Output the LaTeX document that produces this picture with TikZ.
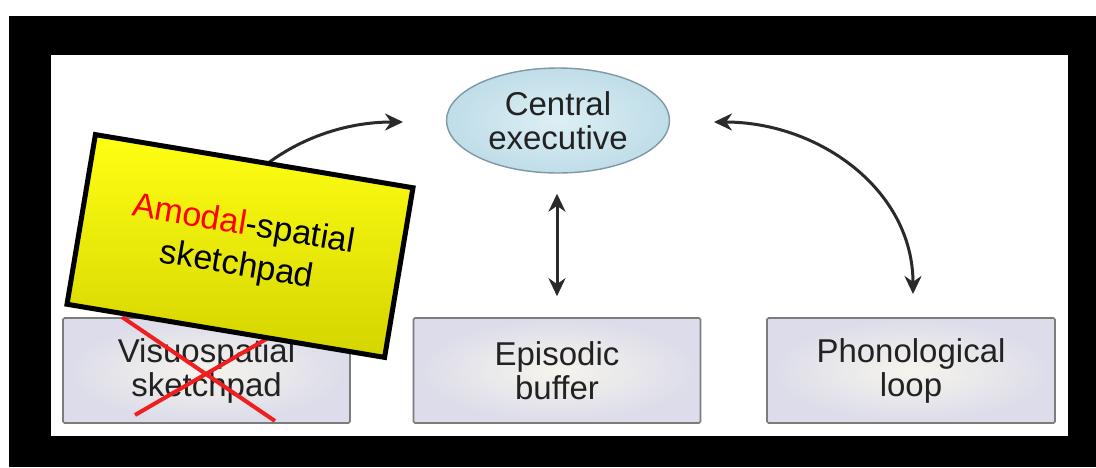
\documentclass[tikz,border=0pt]{standalone}
\usepackage{fontspec}
\setmainfont{Liberation Sans}
\usetikzlibrary{arrows.meta,shapes.geometric}
\definecolor{boxedge}{HTML}{7C7C7C}
\definecolor{boxout}{HTML}{DCDCEA}
\definecolor{boxin}{HTML}{F6F4EC}
\definecolor{ellout}{HTML}{BFDDE8}
\definecolor{ellin}{HTML}{DDEFF4}
\definecolor{elledge}{HTML}{7E98A6}
\definecolor{arrowcol}{HTML}{2A2A2A}
\definecolor{txtcol}{HTML}{222222}
\definecolor{ytop}{HTML}{FFFF14}
\definecolor{ybot}{HTML}{D4D400}
\definecolor{xred}{HTML}{F01E1E}
\tikzset{
  wmbox/.style={draw=boxedge, line width=1.6pt, rounded corners=1.5pt,
    inner color=boxin, outer color=boxout,
    minimum width=287pt, minimum height=105pt, inner sep=0pt,
    align=center, text=txtcol, font=\fontsize{33}{34}\selectfont},
  ceshape/.style={ellipse, draw=elledge, line width=1.4pt,
    inner color=ellin, outer color=ellout,
    minimum width=223pt, minimum height=105pt, inner sep=0pt,
    align=center, text=txtcol, font=\fontsize{33}{34}\selectfont},
  arr/.style={draw=arrowcol, line width=3pt,
    {Stealth[length=18pt,width=17pt]}-{Stealth[length=18pt,width=17pt]}},
  redx/.style={draw=xred, line width=4pt},
  amodalbox/.style={draw=black, line width=5pt, top color=ytop, bottom color=ybot,
    minimum width=322pt, minimum height=172pt, inner sep=0pt,
    align=center, text=black, font=\fontsize{34}{41}\selectfont}
}
\begin{document}
\begin{tikzpicture}[x=1pt,y=-1pt]
\useasboundingbox (0,0) rectangle (1096,467);
\fill[white] (0,0) rectangle (1096,467);
\fill[black] (9,16) rectangle (1096,467);
\fill[white] (51,55) rectangle (1068,436);

\node[wmbox] (vs) at (206.5,370.5) {Visuospatial\\sketchpad};
\node[wmbox] (eb) at (557,370.5) {Episodic\\buffer};
\node[wmbox, minimum width=288pt] (pl) at (911,370.5) {Phonological\\loop};
\node[ceshape] (ce) at (558,120.5) {Central\\executive};

\coordinate (ceL) at (403,122);
\coordinate (ceR) at (714,122);
\coordinate (vsT) at (203,294);
\coordinate (plT) at (913,294);

\draw[arr] (vsT) .. controls (203,190) and (298,122) .. (ceL);
\draw[arr] (ceR) .. controls (819,122) and (913,190) .. (plT);
\draw[arr, shorten <=20pt, shorten >=21pt] (ce.south -| eb.north) -- (eb.north);

\draw[redx] (122,317) -- (275,421);
\draw[redx] (135,415) -- (275,334);

\node[amodalbox, rotate=-9.5] (am) at (240,246) {{\color{red}Amodal}-spatial\\sketchpad};
\end{tikzpicture}
\end{document}
